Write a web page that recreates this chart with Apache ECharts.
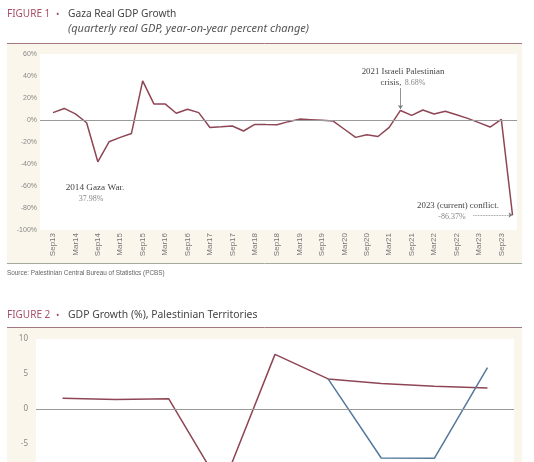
<!DOCTYPE html>
<html>
<head>
<meta charset="utf-8">
<script src="https://cdn.jsdelivr.net/npm/echarts@6/dist/echarts.min.js"></script>
<style>
  html, body { margin: 0; padding: 0; background: #fff; }
  #main { width: 534px; height: 462px; }
</style>
</head>
<body>
<div id="main"></div>
<script>
// Figure 1 - Gaza quarterly real GDP, year-on-year % change
const quarters = ['Sep13', 'Dec13', 'Mar14', 'Jun14', 'Sep14', 'Dec14', 'Mar15', 'Jun15', 'Sep15', 'Dec15',
  'Mar16', 'Jun16', 'Sep16', 'Dec16', 'Mar17', 'Jun17', 'Sep17', 'Dec17', 'Mar18', 'Jun18', 'Sep18', 'Dec18',
  'Mar19', 'Jun19', 'Sep19', 'Dec19', 'Mar20', 'Jun20', 'Sep20', 'Dec20', 'Mar21', 'Jun21', 'Sep21', 'Dec21',
  'Mar22', 'Jun22', 'Sep22', 'Dec22', 'Mar23', 'Jun23', 'Sep23', 'Dec23'];
const gazaGrowth = [6.7, 10.5, 5.5, -2.5, -37.98, -19.8, -15.8, -12.2, 35.5, 14.6,
  14.6, 6.1, 9.8, 6.7, -6.8, -6.2, -5.5, -10.0, -4.0, -4.2, -4.3, -1.5,
  0.8, 0.3, -0.3, -1.0, -8.4, -15.8, -13.5, -15.0, -6.7, 8.68, 4.2, 9.1,
  5.5, 7.9, 4.8, 1.5, -2.4, -6.4, 0.6, -86.37];
// every second quarter gets a tick label (Sep13, Mar14, ... Sep23)
const labelIdx = quarters.map((q, i) => i).filter(i => i % 2 === 0);

// Figure 2 - GDP growth (%), Palestinian Territories
const years = ['2017', '2018', '2019', '2020', '2021', '2022', '2023', '2024', '2025'];
const preWar = [1.55, 1.35, 1.45, -11.3, 7.8, 4.3, 3.65, 3.25, 3.0];
const postWar = [null, null, null, null, null, 4.3, -7.0, -7.05, 5.9];

const maroon = '#8e4654';
const steel = '#55799c';
const cream = '#fbf6ec';
const ruleColor = '#a27880';
const figRed = '#a8506a';
const sans = '"Noto Sans", "Open Sans", sans-serif';
const narrow = '"Liberation Sans Narrow", "Liberation Sans", Arial, sans-serif';
const serif = '"Liberation Serif", "DejaVu Serif", serif';

const chart = echarts.init(document.getElementById('main'));

const option = {
  animation: false,
  backgroundColor: '#fff',
  graphic: [
    // panels
    { type: 'rect', z: -10, shape: { x: 7, y: 44, width: 515, height: 219 }, style: { fill: cream } },
    { type: 'line', z: -10, shape: { x1: 7, y1: 263.5, x2: 522, y2: 263.5 }, style: { stroke: '#a3ab9f', lineWidth: 1 } },
    { type: 'rect', z: -10, shape: { x: 7, y: 328, width: 515, height: 140 }, style: { fill: cream } },
    { type: 'line', shape: { x1: 7, y1: 43.5, x2: 522, y2: 43.5 }, style: { stroke: ruleColor, lineWidth: 1 } },
    { type: 'line', shape: { x1: 7, y1: 327.5, x2: 522, y2: 327.5 }, style: { stroke: ruleColor, lineWidth: 1 } },

    // figure 1 titles
    { type: 'text', x: 7, y: 14, style: { text: 'FIGURE 1', fill: figRed, font: '10px ' + sans, verticalAlign: 'middle' } },
    { type: 'text', x: 56, y: 14, style: { text: '•', fill: figRed, font: '9px ' + sans, verticalAlign: 'middle' } },
    { type: 'text', x: 68, y: 14, style: { text: 'Gaza Real GDP Growth', fill: '#444', font: '10.2px ' + sans, verticalAlign: 'middle' } },
    { type: 'text', x: 68, y: 29, style: { text: '(quarterly real GDP, year-on-year percent change)', fill: '#555', font: 'italic 11px ' + sans, verticalAlign: 'middle' } },
    { type: 'text', x: 7, y: 273, style: { text: 'Source: Palestinian Central Bureau of Statistics (PCBS)', fill: '#666', font: '6.4px ' + narrow, verticalAlign: 'middle' } },

    // figure 1 annotations
    { type: 'text', x: 95, y: 188, style: { text: '2014 Gaza War.', fill: '#444', font: '9.2px ' + serif, align: 'center', verticalAlign: 'middle' } },
    { type: 'text', x: 91, y: 199, style: { text: '37.98%', fill: '#888', font: '8px ' + serif, align: 'center', verticalAlign: 'middle' } },
    { type: 'text', x: 403, y: 72, style: { text: '2021 Israeli Palestinian', fill: '#444', font: '8.8px ' + serif, align: 'center', verticalAlign: 'middle' } },
    { type: 'text', x: 403, y: 83, style: {
      text: '{a|crisis,} {b|8.68%}', align: 'center', verticalAlign: 'middle',
      rich: { a: { fill: '#444', font: '8.8px ' + serif }, b: { fill: '#888', font: '8px ' + serif } } } },
    { type: 'text', x: 458, y: 206, style: { text: '2023 (current) conflict.', fill: '#444', font: '8.8px ' + serif, align: 'center', verticalAlign: 'middle' } },
    { type: 'text', x: 452, y: 217, style: { text: '-86.37%', fill: '#888', font: '8px ' + serif, align: 'center', verticalAlign: 'middle' } },

    // figure 2 title
    { type: 'text', x: 7, y: 315, style: { text: 'FIGURE 2', fill: figRed, font: '10px ' + sans, verticalAlign: 'middle' } },
    { type: 'text', x: 56, y: 315, style: { text: '•', fill: figRed, font: '9px ' + sans, verticalAlign: 'middle' } },
    { type: 'text', x: 68, y: 315, style: { text: 'GDP Growth (%), Palestinian Territories', fill: '#444', font: '10.4px ' + sans, verticalAlign: 'middle' } }
  ],
  grid: [
    { left: 40, top: 54, width: 477, height: 176, show: true, backgroundColor: '#fff', borderWidth: 0, outerBoundsMode: 'none' },
    // figure 2 runs past the bottom edge of the picture
    { left: 36, top: 339, width: 478, height: 175, show: true, backgroundColor: '#fff', borderWidth: 0, outerBoundsMode: 'none' }
  ],
  xAxis: [
    {
      type: 'value', gridIndex: 0, min: -1.16, max: 41.4,
      axisLine: { show: false }, axisTick: { show: false }, splitLine: { show: false },
      axisLabel: {
        customValues: labelIdx, rotate: 90, margin: 3,
        color: '#777', fontSize: 8, fontFamily: narrow,
        formatter: v => quarters[v]
      }
    },
    {
      type: 'category', gridIndex: 1, data: years, boundaryGap: true,
      axisLine: { show: false }, axisTick: { show: false }, axisLabel: { show: false }
    }
  ],
  yAxis: [
    {
      type: 'value', gridIndex: 0, min: -100, max: 60, interval: 20,
      axisLine: { show: false }, axisTick: { show: false }, splitLine: { show: false },
      axisLabel: { formatter: '{value}%', color: '#888', fontSize: 7, fontFamily: narrow, margin: 3 }
    },
    {
      type: 'value', gridIndex: 1, min: -15, max: 10, interval: 5,
      axisLine: { show: false }, axisTick: { show: false }, splitLine: { show: false },
      axisLabel: { color: '#888', fontSize: 8, fontFamily: sans, margin: 8 }
    }
  ],
  series: [
    {
      type: 'line', xAxisIndex: 0, yAxisIndex: 0,
      data: gazaGrowth.map((v, i) => [i, v]),
      showSymbol: false, lineStyle: { color: maroon, width: 1.5 },
      markLine: {
        silent: true, symbol: 'none', animation: false,
        label: { show: false },
        lineStyle: { color: '#9a9a9a', width: 1, type: 'solid' },
        data: [
          { yAxis: 0 },
          [
            { coord: [31, 29], symbol: 'none', lineStyle: { color: '#777', width: 0.8 } },
            { coord: [31, 10], symbol: 'arrow', symbolSize: 4 }
          ],
          [
            { coord: [37.5, -86.37], symbol: 'none', lineStyle: { color: '#777', width: 0.8, type: 'dotted' } },
            { coord: [41, -86.37], symbol: 'arrow', symbolSize: 4 }
          ]
        ]
      }
    },
    {
      type: 'line', xAxisIndex: 1, yAxisIndex: 1, data: preWar,
      showSymbol: false, lineStyle: { color: maroon, width: 1.5 },
      markLine: {
        silent: true, symbol: 'none', label: { show: false },
        lineStyle: { color: '#9a9a9a', width: 1, type: 'solid' },
        data: [{ yAxis: 0 }]
      }
    },
    {
      type: 'line', xAxisIndex: 1, yAxisIndex: 1, data: postWar,
      showSymbol: false, lineStyle: { color: steel, width: 1.5 }
    }
  ]
};

chart.setOption(option);
</script>
</body>
</html>
